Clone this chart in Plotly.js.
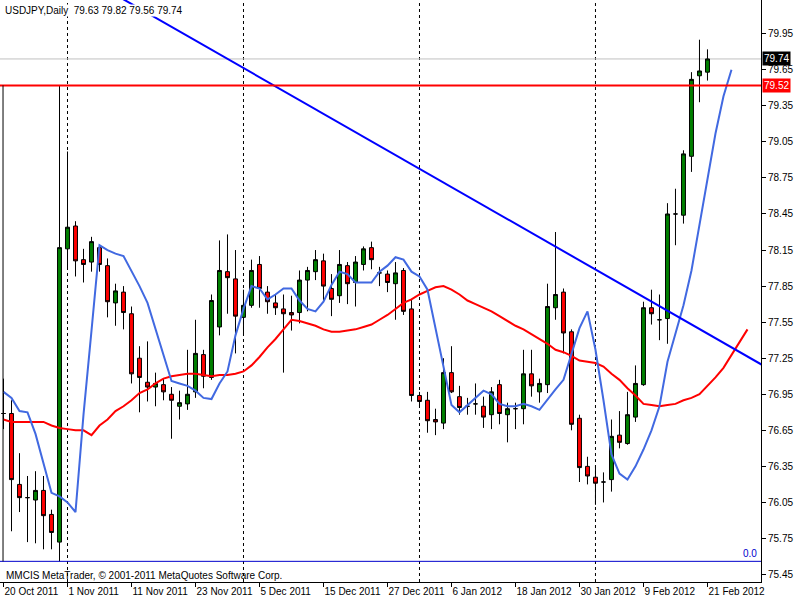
<!DOCTYPE html>
<html>
<head>
<meta charset="utf-8">
<script src="https://cdn.plot.ly/plotly-3.0.1.min.js"></script>
<style>
html,body{margin:0;padding:0;background:#ffffff;}
#chart{width:800px;height:600px;}
</style>
</head>
<body>
<div id="chart"></div>
<script>
// ---------------- DATA ----------------
const symbolName = 'USDJPY,Daily';

// Daily bars, 20 Oct 2011 .. 21 Feb 2012 (trading days, index 0..88)
const dates = [
 '2011-10-20','2011-10-21','2011-10-24','2011-10-25','2011-10-26','2011-10-27','2011-10-28','2011-10-31',
 '2011-11-01','2011-11-02','2011-11-03','2011-11-04','2011-11-07','2011-11-08','2011-11-09','2011-11-10',
 '2011-11-11','2011-11-14','2011-11-15','2011-11-16','2011-11-17','2011-11-18','2011-11-21','2011-11-22',
 '2011-11-23','2011-11-24','2011-11-25','2011-11-28','2011-11-29','2011-11-30',
 '2011-12-01','2011-12-02','2011-12-05','2011-12-06','2011-12-07','2011-12-08','2011-12-09','2011-12-12',
 '2011-12-13','2011-12-14','2011-12-15','2011-12-16','2011-12-19','2011-12-20','2011-12-21','2011-12-22',
 '2011-12-23','2011-12-26','2011-12-27','2011-12-28','2011-12-29','2011-12-30',
 '2012-01-02','2012-01-03','2012-01-04','2012-01-05','2012-01-06','2012-01-09','2012-01-10','2012-01-11',
 '2012-01-12','2012-01-13','2012-01-16','2012-01-17','2012-01-18','2012-01-19','2012-01-20','2012-01-23',
 '2012-01-24','2012-01-25','2012-01-26','2012-01-27','2012-01-30','2012-01-31',
 '2012-02-01','2012-02-02','2012-02-03','2012-02-06','2012-02-07','2012-02-08','2012-02-09','2012-02-10',
 '2012-02-13','2012-02-14','2012-02-15','2012-02-16','2012-02-17','2012-02-20','2012-02-21'
];

const open = [
 76.79,76.79,76.20,76.09,76.07,76.15,75.95,75.72,
 78.16,78.35,78.07,78.05,78.17,78.02,77.71,77.80,
 77.62,77.25,77.05,77.01,77.03,76.95,76.85,76.87,
 76.97,77.28,77.09,77.51,77.97,77.91,
 77.59,77.69,78.03,77.80,77.71,77.66,77.63,77.63,
 77.90,77.97,78.06,77.83,77.77,78.02,77.88,78.03,
 78.17,77.96,77.95,77.87,77.98,77.66,
 76.94,76.90,76.74,76.71,77.13,76.93,76.85,76.87,
 76.85,76.78,77.03,76.78,76.83,76.83,77.12,76.97,
 77.03,77.67,77.80,77.47,76.75,76.35,
 76.26,76.22,76.24,76.61,76.54,76.76,77.03,77.67,
 77.57,77.58,78.45,78.44,78.93,79.60,79.63
];
const high = [
 77.08,76.90,76.46,76.27,76.31,76.27,75.99,79.52,
 78.97,78.39,78.16,78.26,78.19,78.08,77.87,77.85,
 77.68,77.35,77.39,77.13,77.08,77.01,76.98,77.32,
 77.57,77.32,77.78,78.23,78.28,78.15,
 77.82,78.07,78.10,77.85,77.78,77.78,77.77,77.98,
 78.01,78.15,78.12,77.95,78.15,78.05,78.10,78.18,
 78.22,78.01,77.98,78.05,78.00,77.74,
 76.97,76.97,76.83,77.25,77.35,77.02,76.92,77.04,
 76.93,77.01,77.07,76.88,76.88,77.32,77.32,77.08,
 77.87,78.30,77.83,77.49,76.78,76.43,
 76.36,76.30,76.74,76.81,76.97,77.19,77.72,77.82,
 77.78,78.54,78.66,78.98,79.63,79.90,79.82
];
const low = [
 76.66,75.81,75.97,75.72,75.71,75.66,75.66,75.56,
 78.00,77.93,77.88,77.97,77.97,77.59,77.52,77.49,
 77.04,76.80,76.89,76.85,76.90,76.58,76.74,76.82,
 76.92,77.00,77.07,77.44,77.62,77.29,
 77.44,77.67,77.67,77.62,77.61,77.13,77.48,77.54,
 77.64,77.90,77.72,77.60,77.71,77.70,77.68,77.98,
 77.99,77.85,77.80,77.57,77.61,76.89,
 76.85,76.63,76.61,76.66,76.96,76.78,76.78,76.78,
 76.67,76.66,76.70,76.55,76.66,76.70,76.93,76.88,
 76.96,77.57,77.29,76.65,76.22,76.20,
 76.03,76.05,76.14,76.50,76.53,76.72,77.02,77.53,
 77.40,77.37,78.19,78.37,78.80,79.38,79.56
];
const close = [
 76.79,76.24,76.09,76.09,76.15,75.94,75.80,78.17,
 78.34,78.06,78.03,78.22,78.03,77.72,77.81,77.63,
 77.12,77.09,77.01,77.04,76.97,76.90,76.88,76.95,
 77.29,77.10,77.73,77.98,77.92,77.60,
 77.69,77.98,77.83,77.72,77.67,77.62,77.61,77.90,
 77.98,78.07,77.85,77.74,78.03,77.87,78.05,78.16,
 78.07,77.96,77.88,77.96,77.64,76.94,
 76.89,76.73,76.72,77.13,76.97,76.84,76.85,76.87,
 76.76,76.97,76.79,76.83,76.83,77.12,77.02,77.04,
 77.68,77.78,77.46,76.70,76.34,76.27,
 76.21,76.22,76.60,76.55,76.78,77.04,77.67,77.62,
 77.57,78.45,78.45,78.95,79.57,79.64,79.74
];

// Fast moving average (royal blue), drawn shifted forward: index 0..91
const maFast = [
 76.97,76.92,76.81,76.80,76.62,76.37,76.13,76.10,76.05,75.97,
 76.78,77.48,78.19,78.15,78.12,78.10,77.98,77.85,77.71,77.50,
 77.27,77.06,77.04,77.02,76.98,76.92,76.91,77.04,77.14,77.44,
 77.66,77.85,77.83,77.74,77.78,77.83,77.83,77.73,77.66,77.64,
 77.72,77.86,77.97,77.95,77.88,77.88,77.88,77.97,78.02,78.09,
 78.07,77.97,77.93,77.82,77.50,77.17,76.86,76.80,76.86,76.92,
 76.98,76.95,76.87,76.85,76.85,76.87,76.85,76.82,76.91,76.99,
 77.07,77.29,77.50,77.64,77.32,76.90,76.45,76.29,76.24,76.35,
 76.49,76.65,76.85,77.22,77.46,77.69,77.98,78.36,78.76,79.12,
 79.43,79.65
];
// Slow moving average (red), drawn shifted forward: index 0..93
const maSlow = [
 76.74,76.72,76.72,76.72,76.72,76.72,76.69,76.67,76.66,76.65,
 76.65,76.61,76.69,76.74,76.81,76.85,76.90,76.96,76.99,77.04,
 77.08,77.10,77.11,77.12,77.12,77.11,77.10,77.11,77.11,77.12,
 77.14,77.19,77.26,77.34,77.41,77.49,77.57,77.56,77.54,77.52,
 77.49,77.47,77.47,77.48,77.49,77.51,77.53,77.57,77.61,77.66,
 77.71,77.74,77.78,77.81,77.84,77.85,77.82,77.78,77.73,77.70,
 77.67,77.64,77.60,77.56,77.52,77.49,77.45,77.41,77.37,77.32,
 77.30,77.27,77.23,77.22,77.21,77.18,77.12,77.07,77.00,76.94,
 76.87,76.86,76.85,76.86,76.87,76.90,76.92,76.95,77.02,77.09,
 77.17,77.28,77.39,77.49
];

// Drawn objects
const trendBars   = [12, 96];          // bar positions of the trend line ends
const trendPrices = [80.35, 77.15];
const levelRed    = 79.52;             // horizontal line (31 Oct high)
const levelBlue   = 75.56;             // horizontal line (31 Oct low)
const separatorBars = [8, 30, 52, 74]; // first bar of each month

// Axis ticks
const xTickBars   = [0, 8, 16, 24, 32, 40, 48, 56, 64, 72, 80, 88];
const xTickLabels = ['20 Oct 2011','1 Nov 2011','11 Nov 2011','23 Nov 2011','5 Dec 2011','15 Dec 2011',
                     '27 Dec 2011','6 Jan 2012','18 Jan 2012','30 Jan 2012','9 Feb 2012','21 Feb 2012'];
const yTickValues = [75.45,75.75,76.05,76.35,76.65,76.95,77.25,77.55,77.85,78.15,78.45,78.75,79.05,79.35,79.65,79.95];

// ---------------- CHART ----------------
const idx = arr => arr.map((_, i) => i);
const barX = idx(dates);
const n = close.length - 1;
const lastClose = close[n];
const headerText = symbolName + '\u00a0\u00a0' + [open[n], high[n], low[n], close[n]].map(v => v.toFixed(2)).join(' ');

const FONT = 'Liberation Sans, Arial, sans-serif';

const traces = [
  {
    type: 'candlestick', x: barX, open: open, high: high, low: low, close: close,
    text: dates, hoverinfo: 'skip', whiskerwidth: 0,
    increasing: {fillcolor: '#008000', line: {color: '#000000', width: 1}},
    decreasing: {fillcolor: '#FF0000', line: {color: '#000000', width: 1}}
  },
  {
    type: 'scatter', mode: 'lines', x: idx(maSlow), y: maSlow,
    line: {color: '#FF0000', width: 2}, hoverinfo: 'skip'
  },
  {
    type: 'scatter', mode: 'lines', x: idx(maFast), y: maFast,
    line: {color: '#4169E1', width: 2}, hoverinfo: 'skip'
  },
  {
    type: 'scatter', mode: 'lines', x: trendBars, y: trendPrices,
    line: {color: '#0000FF', width: 2}, hoverinfo: 'skip'
  }
];

const shapes = [];
separatorBars.forEach(b => shapes.push({
  type: 'line', xref: 'x', yref: 'paper', x0: b, x1: b, y0: 0, y1: 1,
  line: {color: '#000000', width: 1, dash: '3px,3px'}, layer: 'below'
}));
shapes.push({type: 'line', xref: 'paper', yref: 'y', x0: 0, x1: 1, y0: lastClose, y1: lastClose,
  line: {color: '#C0C0C0', width: 1}, layer: 'below'});
shapes.push({type: 'line', xref: 'paper', yref: 'y', x0: 0, x1: 1, y0: levelRed, y1: levelRed,
  line: {color: '#FF0000', width: 2}});
shapes.push({type: 'line', xref: 'paper', yref: 'y', x0: 0, x1: 1, y0: levelBlue, y1: levelBlue,
  line: {color: '#0000CC', width: 1}});
shapes.push({type: 'line', xref: 'x', yref: 'y', x0: -0.06, x1: -0.06, y0: levelRed, y1: levelBlue,
  line: {color: '#000000', width: 1}});

const annotations = [
  {xref: 'paper', yref: 'paper', x: 0, y: 1, xanchor: 'left', yanchor: 'top', xshift: 4, yshift: -4,
   text: headerText, showarrow: false, bgcolor: '#FFFFFF', borderpad: 0,
   font: {family: FONT, size: 10, color: '#000000'}},
  {xref: 'paper', yref: 'paper', x: 0, y: 0.012, xanchor: 'left', yanchor: 'middle', xshift: 4,
   text: 'MMCIS MetaTrader, \u00a9 2001-2011 MetaQuotes Software Corp.', showarrow: false,
   font: {family: FONT, size: 10, color: '#000000'}},
  {xref: 'paper', yref: 'y', x: 1, y: levelBlue, xanchor: 'right', yanchor: 'bottom', xshift: -2, yshift: 0,
   text: '0.0', showarrow: false, font: {family: FONT, size: 10, color: '#0000CC'}},
  {xref: 'paper', yref: 'y', x: 1, y: lastClose, xanchor: 'left', yanchor: 'middle', xshift: 1,
   text: lastClose.toFixed(2), showarrow: false, bgcolor: '#000000', borderpad: 1,
   font: {family: FONT, size: 10, color: '#FFFFFF'}},
  {xref: 'paper', yref: 'y', x: 1, y: levelRed, xanchor: 'left', yanchor: 'middle', xshift: 1,
   text: levelRed.toFixed(2), showarrow: false, bgcolor: '#FF0000', borderpad: 1,
   font: {family: FONT, size: 10, color: '#FFFFFF'}}
];

const layout = {
  width: 800, height: 600,
  margin: {l: 0, r: 39, t: 0, b: 18, pad: 0},
  paper_bgcolor: '#FFFFFF', plot_bgcolor: '#FFFFFF',
  showlegend: false,
  xaxis: {
    range: [-0.4375, 94.69], showgrid: false, zeroline: false,
    showline: true, linecolor: '#000000', linewidth: 1,
    tickmode: 'array', tickvals: xTickBars, ticktext: xTickLabels,
    ticks: 'outside', ticklen: 4, tickcolor: '#000000', tickwidth: 1,
    ticklabelposition: 'outside right', tickangle: 0, automargin: false,
    tickfont: {family: FONT, size: 10, color: '#000000'},
    rangeslider: {visible: false}, fixedrange: true
  },
  yaxis: {
    side: 'right', range: [75.388, 80.2304], showgrid: false, zeroline: false,
    showline: true, linecolor: '#000000', linewidth: 1,
    tickmode: 'array', tickvals: yTickValues, tickformat: '.2f',
    ticks: 'outside', ticklen: 4, tickcolor: '#000000', tickwidth: 1,
    tickfont: {family: FONT, size: 10, color: '#000000'}, fixedrange: true
  },
  shapes: shapes,
  annotations: annotations
};

Plotly.newPlot('chart', traces, layout, {staticPlot: true, displayModeBar: false});
</script>
</body>
</html>
